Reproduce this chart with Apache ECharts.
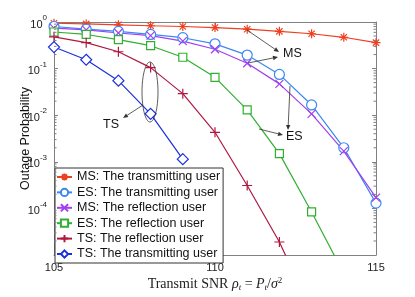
<!DOCTYPE html>
<html><head><meta charset="utf-8">
<script src="https://cdn.jsdelivr.net/npm/echarts@6/dist/echarts.min.js"></script>
<style>html,body{margin:0;padding:0;background:#fff}#c{width:415px;height:297px}</style>
</head><body><div id="c"></div>
<script>
const snr = [105,106,107,108,109,110,111,112,113,114,115];
const msTrans = [0.94,0.91,0.87,0.83,0.80,0.76,0.70,0.63,0.56,0.47,0.36];
const esTrans = [0.80,0.70,0.63,0.54,0.46,0.34,0.195,0.075,0.0166,0.002,0.00013];
const msRefl  = [0.74,0.68,0.58,0.51,0.39,0.26,0.13,0.047,0.0107,0.0017,0.00017];
const esRefl  = [0.61,0.54,0.42,0.31,0.175,0.065,0.013,0.0015,0.000084,0.000004];
const tsRefl  = [0.48,0.36,0.23,0.105,0.029,0.0043,0.00031,0.000019,0.0000006];
const tsTrans = [0.29,0.155,0.055,0.0107,0.00114];
const xTicks = [105,110,115];
const names = ['MS: The transmitting user','ES: The transmitting user','MS: The reflection user','ES: The reflection user','TS: The reflection user','TS: The transmitting user'];

const STAR = 'path://M0,-10L0,10M-10,0L10,0M-7,-7L7,7M-7,7L7,-7';
const XSYM = 'path://M-10,-10L10,10M-10,10L10,-10';
const PLUS = 'path://M0,-10L0,10M-10,0L10,0';

function pairs(vals){ return vals.map((v,i)=>[snr[i], v]); }
function mk(name, vals, color, symbol, size, empty){
  return {
    name, type:'line', data: pairs(vals), clip:true,
    symbol, symbolSize:size, showAllSymbol:true,
    lineStyle:{color, width:1.2},
    itemStyle:{color: empty ? '#fff' : color, borderColor: color, borderWidth:1.2},
    emphasis:{disabled:true}, animation:false
  };
}
const chart = echarts.init(document.getElementById('c'));
const sup = {fontSize:8, fontFamily:'Liberation Sans', color:'#222', verticalAlign:'top', padding:[0,0,0,0]};
const axCol = '#808080';
const FS = 14;
chart.setOption({
  animation:false,
  grid:{left:54, right:39, top:22, bottom:35},
  legend:{
    orient:'vertical', left:55, top:168, itemWidth:15, itemHeight:9, itemGap:1.4,
    padding:[2,3,2,1], backgroundColor:'#fff', borderColor:'#333', borderWidth:1,
    textStyle:{fontFamily:'Liberation Sans', fontSize:12.5, color:'#111', lineHeight:14},
    data:names
  },
  xAxis:[{
    type:'value', min:105, max:115, interval:5, position:'bottom',
    axisLine:{lineStyle:{color:axCol}}, splitLine:{show:false},
    axisTick:{inside:true, length:4, lineStyle:{color:axCol}},
    axisLabel:{fontFamily:'Liberation Sans', fontSize:11, color:'#222', margin:7,
      formatter:v=> xTicks.includes(v)? String(v):''},
    name:'{r|Transmit SNR }{i|ρ}{sub|t}{r| = }{i|P}{sub|t}{r|/}{i|σ}{sup|2}',
    nameLocation:'middle', nameGap:21, nameMoveOverlap:false,
    nameTextStyle:{fontFamily:'Liberation Serif', fontSize:FS, color:'#222',
      rich:{r:{fontFamily:'Liberation Serif', fontSize:FS, color:'#222'},
            i:{fontFamily:'Liberation Serif', fontStyle:'italic', fontSize:FS, color:'#222'},
            sub:{fontFamily:'Liberation Serif', fontStyle:'italic', fontSize:9, color:'#222', verticalAlign:'bottom', padding:[7,0,0,0]},
            sup:{fontFamily:'Liberation Serif', fontSize:9, color:'#222', verticalAlign:'top', padding:[0,0,7,0]}}}
  },{
    type:'value', min:105, max:115, interval:5, position:'top',
    axisLine:{lineStyle:{color:axCol}}, axisTick:{inside:true, length:4, lineStyle:{color:axCol}},
    axisLabel:{show:false}, splitLine:{show:false}
  }],
  yAxis:[{
    type:'log', logBase:10, min:1e-5, max:1, interval:1, position:'left',
    axisLine:{show:true, lineStyle:{color:axCol}}, splitLine:{show:false},
    axisTick:{show:true, inside:true, length:4, lineStyle:{color:axCol}},
    minorTick:{show:false},
    axisLabel:{margin:7, formatter:v=>{
        const e = Math.round(Math.log10(v));
        if (e <= -5) return '';
        return '{b|10}{s|' + (e<0?'-':'') + Math.abs(e) + '}';
      },
      rich:{b:{fontFamily:'Liberation Sans', fontSize:11, color:'#222', lineHeight:16, verticalAlign:'bottom'}, s:sup}},
    name:'Outage Probability', nameLocation:'middle', nameGap:22, nameMoveOverlap:false,
    nameTextStyle:{fontFamily:'Liberation Sans', fontSize:12.5, color:'#111'}
  },{
    type:'log', logBase:10, min:1e-5, max:1, interval:1, position:'right',
    axisLine:{show:true, lineStyle:{color:axCol}}, splitLine:{show:false},
    axisTick:{show:true, inside:true, length:4, lineStyle:{color:axCol}},
    axisLabel:{show:false}
  }],
  series:[
    mk(names[0], msTrans, '#ee4020', STAR, 9, false),
    mk(names[1], esTrans, '#3a88f5', 'circle', 10, true),
    mk(names[2], msRefl, '#a040f0', XSYM, 8, false),
    mk(names[3], esRefl, '#30b030', 'rect', 8, true),
    mk(names[4], tsRefl, '#b01840', PLUS, 10, false),
    mk(names[5], tsTrans, '#1a30e0', 'diamond', 11, true)
  ]
});

// minor log ticks on left and right frame
const els = [];
const xl = chart.convertToPixel({xAxisIndex:0}, 105);
const xr = chart.convertToPixel({xAxisIndex:0}, 115);
for (let e=-5; e<0; e++){
  for (let k=2; k<10; k++){
    const y = chart.convertToPixel({yAxisIndex:0}, k*Math.pow(10,e));
    els.push({type:'line', shape:{x1:xl, y1:y, x2:xl+2.5, y2:y}, style:{stroke:axCol, lineWidth:1}, silent:true, z:50});
    els.push({type:'line', shape:{x1:xr, y1:y, x2:xr-2.5, y2:y}, style:{stroke:axCol, lineWidth:1}, silent:true, z:50});
  }
}

// annotations
const ann = '#333';
function arrow(x1,y1,x2,y2){
  const a = Math.atan2(y2-y1, x2-x1), L=5, W=2.2;
  const bx = x2 - L*Math.cos(a), by = y2 - L*Math.sin(a);
  const px = -Math.sin(a)*W, py = Math.cos(a)*W;
  return [
    {type:'line', shape:{x1,y1,x2:bx,y2:by}, style:{stroke:ann, lineWidth:0.8}, silent:true, z:100},
    {type:'polygon', shape:{points:[[x2,y2],[bx+px,by+py],[bx-px,by-py]]}, style:{fill:ann}, silent:true, z:100}
  ];
}
function label(text,x,y){
  return {type:'text', x, y, style:{text, fontFamily:'Liberation Sans', fontSize:12.5, fill:'#111', verticalAlign:'middle'}, silent:true, z:100};
}
els.push({type:'ellipse', shape:{cx:150, cy:92, rx:8, ry:30}, style:{fill:'none', stroke:ann, lineWidth:0.8}, silent:true, z:100});
els.push(...arrow(143,105,123,118), label('TS',103,125));
els.push(...arrow(247,30,279,52), ...arrow(248,63,278,57), label('MS',283,54));
els.push(...arrow(290,86,288,130), ...arrow(259,129,283,135), label('ES',286,137));
chart.setOption({graphic:{elements:els}});
</script></body></html>
